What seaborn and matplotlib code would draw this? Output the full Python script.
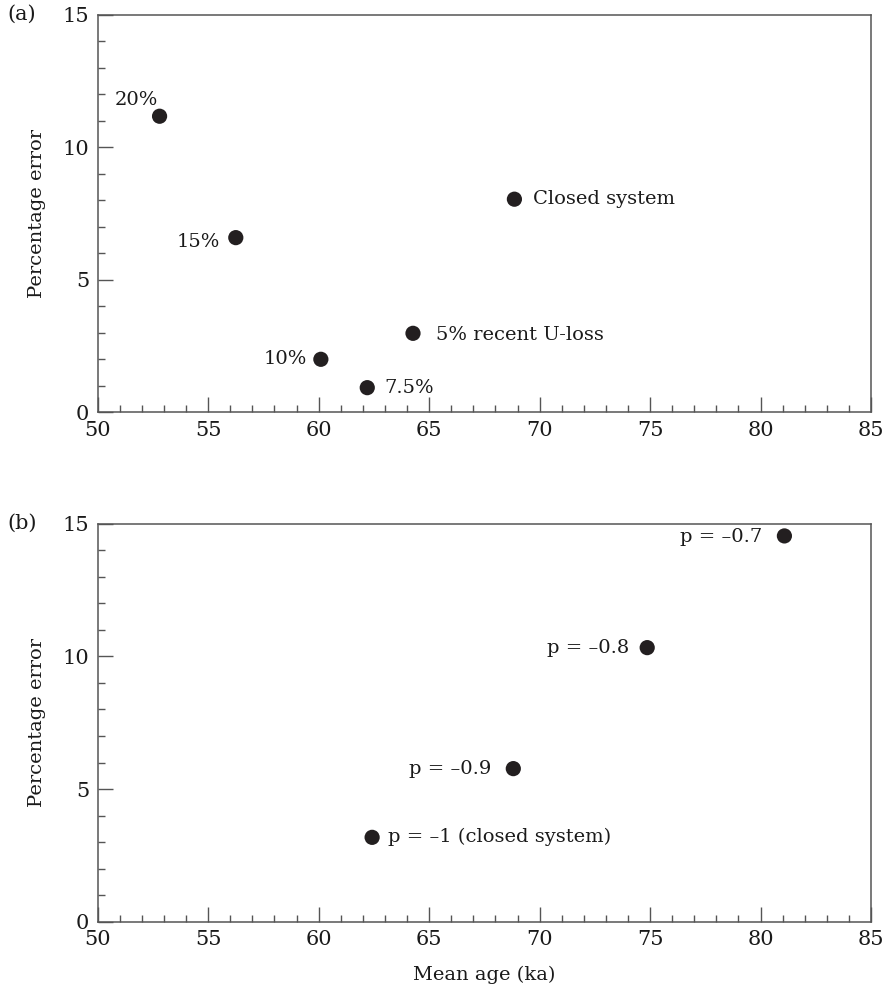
import pandas as pd
import matplotlib
matplotlib.use('Agg')
import matplotlib.pyplot as plt
from matplotlib.ticker import MultipleLocator
import seaborn as sns

# Panel (a): uranium loss scenarios
a_labels = ['20%', '15%', '10%', '7.5%', '5% recent U-loss', 'Closed system']
a_age = [52.8, 56.25, 60.1, 62.2, 64.27, 68.86]
a_err = [11.17, 6.59, 2.0, 0.93, 2.98, 8.04]

# Panel (b): p values
b_labels = ['p = \u20130.7', 'p = \u20130.8', 'p = \u20130.9', 'p = \u20131 (closed system)']
b_age = [81.08, 74.87, 68.81, 62.42]
b_err = [14.54, 10.33, 5.77, 3.18]

# label offsets in pixels (dx, dy, ha) -- placement of annotation text only
a_offsets = [(-2, 16, 'right'), (-16, -4, 'right'), (-14, 0, 'right'),
             (17, 0, 'left'), (23, -2, 'left'), (19, 0, 'left')]
b_offsets = [(-22, -1, 'right'), (-18, 0, 'right'), (-22, 0, 'right'), (16, 0, 'left')]

sns.set_style('ticks')
plt.rcParams['font.family'] = ['DejaVu Serif']
plt.rcParams['mathtext.fontset'] = 'dejavuserif'

spine_col = '#555555'
text_col = '#1a1a1a'
dot_col = '#231f20'

fig = plt.figure(figsize=(8.85, 10.01), dpi=100)
ax_a = fig.add_axes([0.1104, 0.5881, 0.8738, 0.3972])
ax_b = fig.add_axes([0.1104, 0.0792, 0.8738, 0.3976])

px = 72 / 100  # pixels -> points

def draw_panel(ax, ages, errs, labels, offsets, tag):
    df = pd.DataFrame({'age': ages, 'err': errs, 'label': labels})
    sns.scatterplot(data=df, x='age', y='err', ax=ax, s=120, color=dot_col,
                    edgecolor='none', zorder=3)
    for (_, row), (dx, dy, ha) in zip(df.iterrows(), offsets):
        ax.annotate(row['label'], (row['age'], row['err']),
                    xytext=(dx * px, dy * px), textcoords='offset points',
                    ha=ha, va='center', fontsize=14, color=text_col)
    ax.set_xlim(50, 85)
    ax.set_ylim(0, 15)
    ax.xaxis.set_major_locator(MultipleLocator(5))
    ax.xaxis.set_minor_locator(MultipleLocator(1))
    ax.yaxis.set_major_locator(MultipleLocator(5))
    ax.yaxis.set_minor_locator(MultipleLocator(1))
    ax.tick_params(which='both', direction='in', colors=spine_col,
                   labelcolor=text_col, labelsize=15, width=1.0,
                   top=False, right=False)
    ax.tick_params(which='major', length=11, pad=6)
    ax.tick_params(which='minor', length=5)
    for sp in ax.spines.values():
        sp.set_color(spine_col)
        sp.set_linewidth(1.1)
    ax.set_ylabel('Percentage error', fontsize=14, color=text_col, labelpad=12)
    ax.set_xlabel('')
    ax.text(-0.117, 1.0, tag, transform=ax.transAxes, fontsize=15,
            color=text_col, ha='left', va='center')

draw_panel(ax_a, a_age, a_err, a_labels, a_offsets, '(a)')
draw_panel(ax_b, b_age, b_err, b_labels, b_offsets, '(b)')
ax_b.set_xlabel('Mean age (ka)', fontsize=14, color=text_col, labelpad=12)

fig.savefig('out.png', dpi=100, facecolor='white')
